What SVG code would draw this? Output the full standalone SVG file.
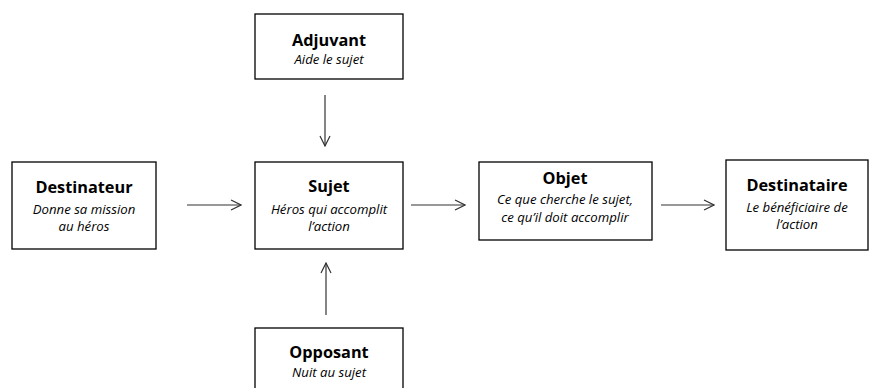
<svg xmlns="http://www.w3.org/2000/svg" width="883" height="388" viewBox="0 0 883 388">
<style>
.box{fill:#fff;stroke:#000;stroke-width:1.3}
.t{font-family:"Open Sans","Noto Sans",sans-serif;font-weight:bold;font-size:16.3px;text-anchor:middle;fill:#000}
.s{font-family:"Open Sans","Noto Sans",sans-serif;font-style:italic;font-size:13.2px;text-anchor:middle;fill:#000}
.c{stroke:#333;stroke-width:1.2;fill:none}
</style>
<defs>
<marker id="a" viewBox="0 0 12 12" refX="11" refY="6" markerWidth="12" markerHeight="12" markerUnits="userSpaceOnUse" orient="auto">
<path d="M1,1 L11,6 L1,11" fill="none" stroke="#333" stroke-width="1.2"/>
</marker>
</defs>
<rect width="883" height="388" fill="#fff"/>
<g id="connectors">
<line class="c" x1="325" y1="95" x2="325" y2="146" marker-end="url(#a)"/>
<line class="c" x1="326" y1="315" x2="326" y2="263" marker-end="url(#a)"/>
<line class="c" x1="187" y1="205" x2="241" y2="205" marker-end="url(#a)"/>
<line class="c" x1="411" y1="205" x2="465" y2="205" marker-end="url(#a)"/>
<line class="c" x1="661" y1="205" x2="714" y2="205" marker-end="url(#a)"/>
</g>
<g id="adjuvant">
<rect class="box" x="255" y="14" width="148" height="65"/>
<text class="t" x="329" y="46">Adjuvant</text>
<text class="s" x="329" y="64">Aide le sujet</text>
</g>
<g id="destinateur">
<rect class="box" x="12" y="162" width="144" height="87"/>
<text class="t" x="84" y="193">Destinateur</text>
<text class="s" x="84" y="214">Donne sa mission</text>
<text class="s" x="84" y="231">au héros</text>
</g>
<g id="sujet">
<rect class="box" x="255" y="162" width="148" height="87"/>
<text class="t" x="329" y="192">Sujet</text>
<text class="s" x="329" y="214">Héros qui accomplit</text>
<text class="s" x="329" y="231">l’action</text>
</g>
<g id="objet">
<rect class="box" x="479" y="162" width="173" height="78"/>
<text class="t" x="565" y="184">Objet</text>
<text class="s" x="565" y="204">Ce que cherche le sujet,</text>
<text class="s" x="565" y="222">ce qu’il doit accomplir</text>
</g>
<g id="destinataire">
<rect class="box" x="726" y="160" width="142" height="90"/>
<text class="t" x="797" y="191">Destinataire</text>
<text class="s" x="797" y="212">Le bénéficiaire de</text>
<text class="s" x="797" y="229">l’action</text>
</g>
<g id="opposant">
<rect class="box" x="255" y="328" width="148" height="70"/>
<text class="t" x="329" y="358">Opposant</text>
<text class="s" x="329" y="377">Nuit au sujet</text>
</g>
</svg>
